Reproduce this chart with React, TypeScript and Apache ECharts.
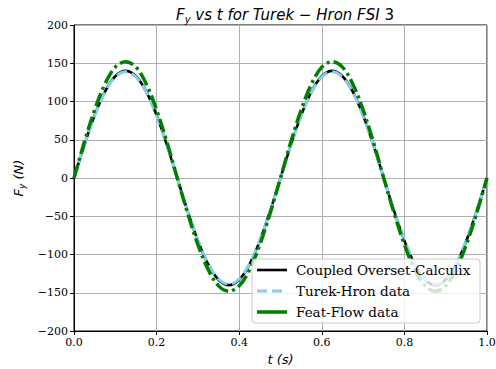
import React, { useEffect, useRef } from "react";
import * as echarts from "echarts";

const times = [
  0, 0.025, 0.05, 0.075, 0.1, 0.125, 0.15, 0.175, 0.2, 0.225, 0.25, 0.275, 0.3, 0.325, 0.35, 0.375, 0.4,
  0.425, 0.45, 0.475, 0.5, 0.525, 0.55, 0.575, 0.6, 0.625, 0.65, 0.675, 0.7, 0.725, 0.75, 0.775, 0.8,
  0.825, 0.85, 0.875, 0.9, 0.925, 0.95, 0.975, 1.0,
];

const coupledOverset = [
  0, 43, 82, 113, 133, 140, 133, 113, 82, 43, 0, -43, -82, -113, -133, -140, -133, -113, -82, -43,
  0, 43, 82, 113, 133, 140, 133, 113, 82, 43, 0, -43, -82, -113, -133, -140, -133, -113, -82, -43, 0,
];

const turekHron = [
  0, 43, 81, 112, 132, 139, 132, 112, 81, 43, 0, -43, -81, -112, -132, -139, -132, -112, -81, -43,
  0, 43, 81, 112, 132, 139, 132, 112, 81, 43, 0, -43, -81, -112, -132, -139, -132, -112, -81, -43, 0,
];

const featFlow = [
  0, 47, 89, 123, 145, 152, 145, 123, 89, 47, 0, -46, -87, -120, -141, -148, -141, -120, -87, -46,
  0, 47, 89, 123, 145, 152, 145, 123, 89, 47, 0, -46, -87, -120, -141, -148, -141, -120, -87, -46, 0,
];

const seriesNames = ["Coupled Overset-Calculix", "Turek-Hron data", "Feat-Flow data"];
const seriesColors = ["#000000", "#87ceeb", "#008000"];

const pairs = (ys: number[]) => times.map((t, i) => [t, ys[i]]);

export default function App() {
  const ref = useRef<HTMLDivElement>(null);
  useEffect(() => {
    document.body.style.margin = "0";
    const chart = echarts.init(ref.current!, null, { renderer: "svg" });
    const serif = "DejaVu Serif";
    const sans = "DejaVu Sans";
    const lx = 252, ly = 259;
    const rowY = [270, 291, 312];
    const dashes: (number[] | null)[] = [null, [11, 5], [14, 4, 3, 4]];
    const widths = [2.6, 3, 3.5];
    const legendEls: any[] = [
      {
        type: "rect",
        shape: { x: lx, y: ly, width: 228, height: 64, r: 3 },
        style: { fill: "rgba(255,255,255,0.8)", stroke: "#cccccc", lineWidth: 1 },
        z: 100,
      },
    ];
    seriesNames.forEach((n, i) => {
      legendEls.push({
        type: "line",
        shape: { x1: lx + 5, y1: rowY[i], x2: lx + 35, y2: rowY[i] },
        style: { stroke: seriesColors[i], lineWidth: widths[i], lineDash: i === 1 ? [10, 5] : null },
        z: 101,
      });
      legendEls.push({
        type: "text",
        x: lx + 44,
        y: rowY[i],
        style: { text: n, font: `normal 13.5px '${serif}'`, fill: "#000", verticalAlign: "middle", textAlign: "left" },
        z: 101,
      });
    });

    chart.setOption({
      animation: false,
      backgroundColor: "#ffffff",
      title: {
        text: "{i|F}{s|y}{i| vs t for Turek − Hron FSI }{n|3}",
        left: 280,
        textAlign: "center",
        top: 1,
        textStyle: {
          fontWeight: "normal",
          rich: {
            i: { fontFamily: sans, fontStyle: "italic", fontWeight: "normal", fontSize: 15, color: "#000" },
            s: { fontFamily: sans, fontStyle: "italic", fontWeight: "normal", fontSize: 10, color: "#000", verticalAlign: "bottom", padding: [8, 0, 0, 0] },
            n: { fontFamily: sans, fontWeight: "normal", fontSize: 15, color: "#000" },
          },
        },
      },
      grid: {
        left: 74,
        right: 9,
        top: 25,
        bottom: 38,
        show: true,
        borderColor: "#000",
        borderWidth: 1,
        backgroundColor: "transparent",
        outerBoundsMode: "none",
        containLabel: false,
      },
      xAxis: {
        type: "value",
        min: 0,
        max: 1,
        interval: 0.2,
        name: "t (s)",
        nameLocation: "middle",
        nameGap: 22,
        nameTextStyle: { fontFamily: sans, fontStyle: "italic", fontSize: 13, color: "#000" },
        axisLine: { show: true, onZero: false, lineStyle: { color: "#000" } },
        axisTick: { show: true, inside: false, length: 4, lineStyle: { color: "#000" } },
        axisLabel: {
          fontFamily: serif,
          fontSize: 11,
          color: "#000",
          margin: 6,
          formatter: (v: number) => v.toFixed(1),
        },
        splitLine: { show: true, lineStyle: { color: "#b0b0b0", width: 1 } },
      },
      yAxis: {
        type: "value",
        min: -200,
        max: 200,
        interval: 50,
        name: "{i|F}{s|y}{i| (N)}",
        nameLocation: "middle",
        nameRotate: 90,
        nameGap: 48,
        nameTextStyle: {
          rich: {
            i: { fontFamily: sans, fontStyle: "italic", fontSize: 13, color: "#000" },
            s: { fontFamily: sans, fontStyle: "italic", fontSize: 9, color: "#000", verticalAlign: "bottom", padding: [7, 0, 0, 0] },
          },
        },
        axisLine: { show: true, onZero: false, lineStyle: { color: "#000" } },
        axisTick: { show: true, inside: false, length: 4, lineStyle: { color: "#000" } },
        axisLabel: {
          fontFamily: serif,
          fontSize: 11,
          color: "#000",
          margin: 6,
          formatter: (v: number) => String(v).replace("-", "\u2212"),
        },
        splitLine: { show: true, lineStyle: { color: "#b0b0b0", width: 1 } },
      },
      series: [
        {
          name: seriesNames[0],
          type: "line",
          data: pairs(coupledOverset),
          smooth: 0.35,
          showSymbol: false,
          lineStyle: { color: seriesColors[0], width: widths[0] },
          z: 2,
        },
        {
          name: seriesNames[1],
          type: "line",
          data: pairs(turekHron),
          smooth: 0.35,
          showSymbol: false,
          lineStyle: { color: seriesColors[1], width: widths[1], type: dashes[1] as any },
          z: 3,
        },
        {
          name: seriesNames[2],
          type: "line",
          data: pairs(featFlow),
          smooth: 0.35,
          showSymbol: false,
          lineStyle: { color: seriesColors[2], width: widths[2], type: dashes[2] as any },
          z: 4,
        },
      ],
      graphic: { elements: legendEls },
    });
    return () => chart.dispose();
  }, []);
  return <div ref={ref} style={{ width: 496, height: 369 }} />;
}
